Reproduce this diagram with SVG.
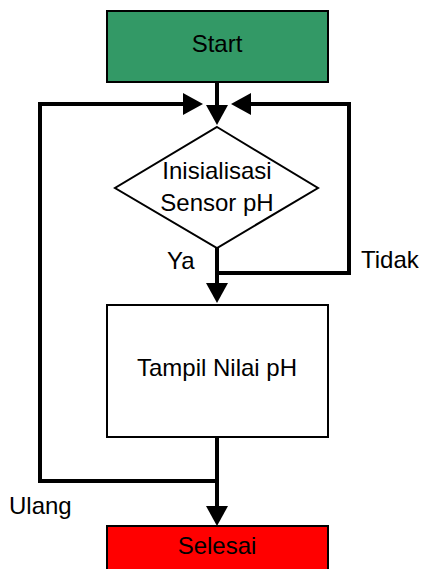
<svg xmlns="http://www.w3.org/2000/svg" width="423" height="569" viewBox="0 0 423 569">
<defs>
<marker id="arr" markerUnits="userSpaceOnUse" markerWidth="22" markerHeight="22" refX="0" refY="11" orient="auto" viewBox="0 0 20 22">
<path d="M0,0 L20,11 L0,22 z" fill="#000"/>
</marker>
<style>
.box{stroke:#000;stroke-width:2}
.t{font-family:"Liberation Sans",Arial,sans-serif;font-size:24px;text-anchor:middle;fill:#000}
.l{font-family:"Liberation Sans",Arial,sans-serif;font-size:24px;fill:#000}
.c{fill:none;stroke:#000;stroke-width:4}
</style>
</defs>
<rect width="423" height="569" fill="#fff"/>
<g id="connectors">
<path class="c" d="M217,82 V105" marker-end="url(#arr)"/>
<path class="c" d="M217,248 V283" marker-end="url(#arr)"/>
<path class="c" d="M217,437 V506" marker-end="url(#arr)"/>
<path class="c" d="M217,481 H40 V104 H183" marker-end="url(#arr)"/>
<path class="c" d="M217,273 H349 V104 H251" marker-end="url(#arr)"/>
<text class="l" x="167" y="269">Ya</text>
<text class="l" x="361" y="268">Tidak</text>
<text class="l" x="9" y="514">Ulang</text>
</g>
<g id="start">
<rect class="box" x="107" y="11" width="221" height="71" fill="#339966"/>
<text class="t" x="217" y="52">Start</text>
</g>
<g id="decision">
<polygon class="box" points="217,127 318,188 217,248 115,188" fill="#fff"/>
<text class="t" x="217" y="179">Inisialisasi</text>
<text class="t" x="217" y="211">Sensor pH</text>
</g>
<g id="tampil">
<rect class="box" x="107" y="305" width="221" height="132" fill="#fff"/>
<text class="t" x="217" y="376">Tampil Nilai pH</text>
</g>
<g id="selesai">
<rect class="box" x="107" y="526" width="221" height="60" fill="#ff0000"/>
<text class="t" x="217" y="554">Selesai</text>
</g>
</svg>
